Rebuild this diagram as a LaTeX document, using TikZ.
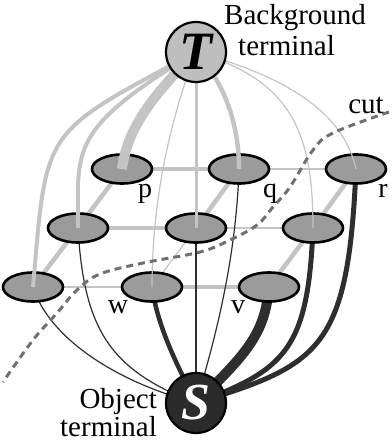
\documentclass[tikz,border=0pt]{standalone}
\usepackage{fontspec}
\setmainfont{Liberation Serif}
\usetikzlibrary{shapes.geometric}
\definecolor{cellgray}{HTML}{9B9B9B}
\definecolor{litegray}{HTML}{C4C4C4}
\definecolor{termlite}{HTML}{BEBEBE}
\definecolor{termdark}{HTML}{2B2B2B}
\definecolor{darkline}{HTML}{2E2E2E}
\definecolor{cutgray}{HTML}{707070}
\begin{document}
\begin{tikzpicture}[x=1pt,y=-1pt,
  cell/.style={ellipse, draw=black, line width=2.6pt, fill=cellgray, minimum width=60pt, minimum height=29pt, inner sep=0pt},
  term/.style={circle, draw=black, line width=2.2pt, minimum size=60pt, inner sep=0pt},
  lite/.style={draw=litegray},
  dark/.style={draw=darkline},
  hair/.style={line width=1.2pt},
  med/.style={line width=4.5pt},
  heavy/.style={line width=10pt},
  cutline/.style={draw=cutgray, line width=3pt, dash pattern=on 7pt off 5pt},
  lbl/.style={font=\fontsize{29}{32}\selectfont, inner sep=0pt, anchor=base},
  letter/.style={font=\fontsize{28}{30}\selectfont, inner sep=0pt, anchor=base},
]
\useasboundingbox (0,0) rectangle (391,444);
\coordinate (Tc) at (196,52);
\coordinate (Sc) at (196,403);
% grid cell centres
\path (122,169) coordinate (p0) (239,169) coordinate (q0) (356,169) coordinate (r0)
      (78,228) coordinate (ml0) (196,228) coordinate (mc0) (313,228) coordinate (mr0)
      (33,287) coordinate (bl0) (152,287) coordinate (bm0) (269,287) coordinate (br0);
% grid edges (under cells)
\draw[lite, med] (p0) -- (q0);
\draw[lite, hair] (q0) -- (r0);
\draw[lite, med] (ml0) -- (mc0);
\draw[lite, hair] (mc0) -- (mr0);
\draw[lite, hair] (bl0) -- (bm0);
\draw[lite, med] (bm0) -- (br0);
\draw[lite, med] (p0) -- (ml0);
\draw[lite, med] (ml0) -- (bl0);
\draw[lite, med] (q0) -- (mc0);
\draw[lite, hair] (mc0) -- (bm0);
\draw[lite, med] (r0) -- (mr0);
\draw[lite, med] (mr0) -- (br0);
% object-terminal edges (under cells)
\draw[dark, hair] (bl0) .. controls (48,335) and (110,380) .. (Sc);
\draw[dark, hair] (ml0) .. controls (84,330) and (110,370) .. (Sc);
\draw[dark, med] (bm0) .. controls (158,330) and (180,370) .. (Sc);
\draw[dark, hair] (mc0) -- (Sc);
\draw[dark, hair] (q0) .. controls (236,260) and (215,340) .. (Sc);
\draw[dark, heavy] (br0) .. controls (265,335) and (245,355) .. (Sc);
\draw[dark, line width=5pt] (mr0) .. controls (308,350) and (285,370) .. (Sc);
\draw[dark, line width=5pt] (r0) .. controls (348,350) and (320,365) .. (Sc);
% cells
\node[cell] (p) at (p0) {};
\node[cell] (q) at (q0) {};
\node[cell] (r) at (r0) {};
\node[cell] (ml) at (ml0) {};
\node[cell] (mc) at (mc0) {};
\node[cell] (mr) at (mr0) {};
\node[cell] (bl) at (bl0) {};
\node[cell] (bm) at (bm0) {};
\node[cell] (br) at (br0) {};
% background-terminal edges (over cells)
\draw[lite, line width=4pt] (Tc) .. controls (40,135) and (47,127) .. (bl.center);
\draw[lite, line width=4pt] (Tc) .. controls (68,130) and (78,148) .. (ml.center);
\draw[lite, heavy] (Tc) .. controls (150,98) and (127,130) .. (p.center);
\draw[lite, hair] (Tc) .. controls (170,120) and (152,200) .. (bm.center);
\draw[lite, line width=3pt] (Tc) -- (mc.center);
\draw[lite, med] (Tc) .. controls (222,80) and (239,120) .. (q.center);
\draw[lite, hair] (Tc) .. controls (290,80) and (313,130) .. (mr.center);
\draw[lite, hair] (Tc) .. controls (300,80) and (345,120) .. (r.center);
% cut
\draw[cutline] plot[smooth, tension=0.6] coordinates {(389,112) (333,133) (313,150) (290,187) (273,207) (257,225) (230,240) (200,252) (143,263) (100,274) (77,290) (57,313) (33,340) (3,382)};
% terminals
\node[term, fill=termlite] (T) at (Tc) {\fontsize{54}{54}\selectfont\bfseries\itshape T};
\node[term, fill=termdark, text=white] (S) at (Sc) {\fontsize{52}{52}\selectfont\bfseries\itshape S};
% labels
\node[letter] (lp) at (145,197) {p};
\node[letter] (lq) at (270,197) {q};
\node[letter] (lr) at (383,197) {r};
\node[letter] (lw) at (118,313) {w};
\node[letter] (lv) at (238,313) {v};
\node[lbl] (cut) at (366,113) {cut};
\node[lbl, anchor=base west] (bg1) at (224,25) {Background};
\node[lbl, anchor=base west] (bg2) at (238,56) {terminal};
\node[lbl, anchor=base east] (ob1) at (157,408) {Object};
\node[lbl, anchor=base east] (ob2) at (157,436) {terminal};
\end{tikzpicture}
\end{document}
